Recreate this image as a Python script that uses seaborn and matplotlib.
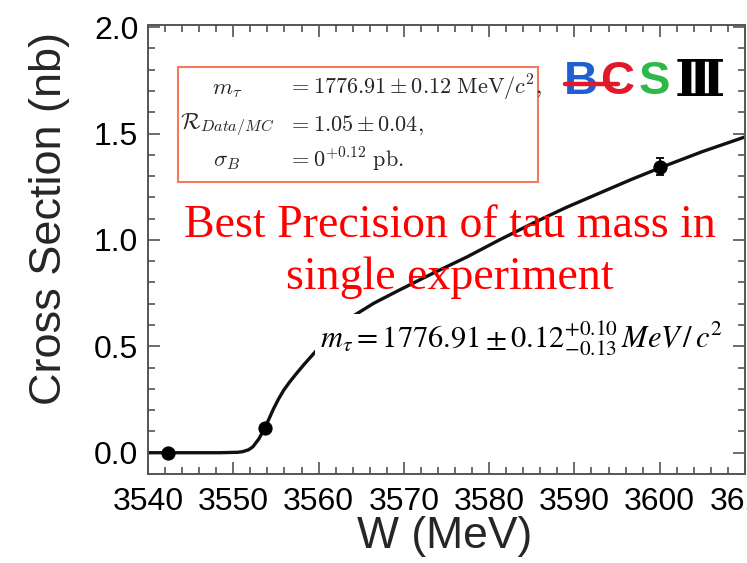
import matplotlib
matplotlib.use("Agg")
import matplotlib.pyplot as plt
from matplotlib.patches import Rectangle
from matplotlib.lines import Line2D
from matplotlib.ticker import MultipleLocator, FormatStrFormatter
import seaborn as sns
import pandas as pd

# Fitted cross-section line shape near the tau-pair threshold
curve_w = [3540.0, 3548.4, 3550.5, 3551.1, 3551.8, 3552.3, 3553.0, 3553.7,
           3554.2, 3554.7, 3555.3, 3555.9, 3556.6, 3557.4, 3558.3, 3559.3,
           3560.5, 3561.8, 3563.0, 3564.0, 3566.5, 3569.5, 3573.5, 3577.4,
           3581.2, 3585.1, 3589.0, 3593.0, 3596.6, 3600.3, 3605.0, 3610.0]
curve_xs = [0.0, 0.0, 0.002, 0.005, 0.014, 0.028, 0.065, 0.117,
            0.160, 0.205, 0.252, 0.293, 0.332, 0.372, 0.415, 0.460,
            0.515, 0.565, 0.607, 0.641, 0.703, 0.765, 0.845, 0.920,
            1.000, 1.078, 1.152, 1.221, 1.283, 1.343, 1.415, 1.484]

# Measured scan points
data_w = [3542.3, 3553.7, 3600.0]
data_xs = [0.0, 0.117, 1.343]
data_err = [0.0, 0.0, 0.04]

x_ticks = [3540, 3550, 3560, 3570, 3580, 3590, 3600, 3610]
y_ticks = [0.0, 0.5, 1.0, 1.5, 2.0]

sns.set_style("ticks")
plt.rcParams["font.family"] = ["Liberation Sans", "DejaVu Sans"]

W, H = 747, 563
fig = plt.figure(figsize=(W / 100, H / 100), dpi=100)
L, R, T, B = 148, 745, 25, 474
ax = fig.add_axes([L / W, (H - B) / H, (R - L) / W, (B - T) / H])

def axpos(px, py):
    return ((px - L) / (R - L), (B - py) / (B - T))

curve = pd.DataFrame({"W": curve_w, "xs": curve_xs})
sns.lineplot(data=curve, x="W", y="xs", ax=ax, color="#111111", lw=2.4,
             zorder=2)
ax.errorbar(data_w, data_xs, yerr=data_err, fmt="none", ecolor="#111111",
            elinewidth=1.4, capsize=3, capthick=1.4, zorder=3)
sns.scatterplot(x=data_w, y=data_xs, ax=ax, color="black", s=90,
                edgecolor="black", zorder=4)

ax.set_xlim(3540, 3610)
ax.set_ylim(-0.1, 2.01)
ax.set_xticks(x_ticks)
ax.set_yticks(y_ticks)
ax.xaxis.set_minor_locator(MultipleLocator(2))
ax.yaxis.set_minor_locator(MultipleLocator(0.1))
ax.yaxis.set_major_formatter(FormatStrFormatter("%.1f"))
ax.tick_params(which="both", direction="in", top=True, right=True,
               color="#444444", width=1.1, labelsize=23, labelcolor="black")
ax.tick_params(which="major", length=8.6)
ax.tick_params(which="minor", length=5)
ax.tick_params(axis="x", pad=9)
ax.tick_params(axis="y", pad=7)
for s in ax.spines.values():
    s.set_color("#555555")
    s.set_linewidth(1.4)

ax.set_xlabel("W (MeV)", fontsize=32)
ax.set_ylabel("Cross Section (nb)", fontsize=32.5)
ax.xaxis.set_label_coords(0.497, -0.094)
ax.yaxis.set_label_coords(-0.130, 0.57)

# Fit result box
x0, y0 = axpos(178, 182)
x1, y1 = axpos(538, 67)
ax.add_patch(Rectangle((x0, y0), x1 - x0, y1 - y0, transform=ax.transAxes,
                       fill=False, edgecolor="#f27a5e", lw=1.5, zorder=5))
box_rows = [
    (r"$m_\tau$", r"$= 1776.91 \pm 0.12\ \mathrm{MeV}/c^2,$", 88),
    (r"$\mathcal{R}_{Data/MC}$", r"$= 1.05 \pm 0.04,$", 125),
    (r"$\sigma_B$", r"$= 0^{+0.12}\ \mathrm{pb.}$", 160),
]
for left, right, py in box_rows:
    ax.text(*axpos(227, py), left, transform=ax.transAxes, ha="center",
            va="center", fontsize=16.5, math_fontfamily="cm", zorder=6)
    ax.text(*axpos(288, py), right, transform=ax.transAxes, ha="left",
            va="center", fontsize=16, math_fontfamily="cm", zorder=6)

# Headline
for txt, py in [("Best Precision of tau mass in", 237),
                ("single experiment", 289)]:
    ax.text(*axpos(450, py), txt, transform=ax.transAxes, ha="center",
            va="baseline", fontsize=33, color="#ff0000",
            family="Liberation Serif", zorder=6)

# Mass value with white backing
ax.text(*axpos(320, 347),
        r"$m_\tau = 1776.91 \pm 0.12^{+0.10}_{-0.13}\, MeV\,/\,c^2$",
        transform=ax.transAxes, ha="left", va="baseline", fontsize=22,
        math_fontfamily="stix", color="black", zorder=6,
        bbox=dict(boxstyle="square,pad=0.17", facecolor="white",
                  edgecolor="none"))

# BESIII logo
logo = [("B", 581, "#1f5fd2"), ("C", 617, "#e3182a"), ("S", 654, "#2eb84a")]
for ch, px, col in logo:
    fig.text(px / W, (H - 82) / H, ch, ha="center", va="center",
             fontsize=34, fontweight="bold", color=col,
             family="Liberation Sans", zorder=7)
fig.add_artist(Line2D([565 / W, 618 / W], [(H - 84) / H, (H - 84) / H],
                      color="#e3182a", lw=3.2, zorder=8))
fig.text(700 / W, (H - 82) / H, "Ⅲ", ha="center", va="center", fontsize=36,
         fontweight="bold", color="black",
         family=["DejaVu Serif", "Noto Sans CJK SC"], zorder=7)

fig.savefig("out.png", dpi=100)
